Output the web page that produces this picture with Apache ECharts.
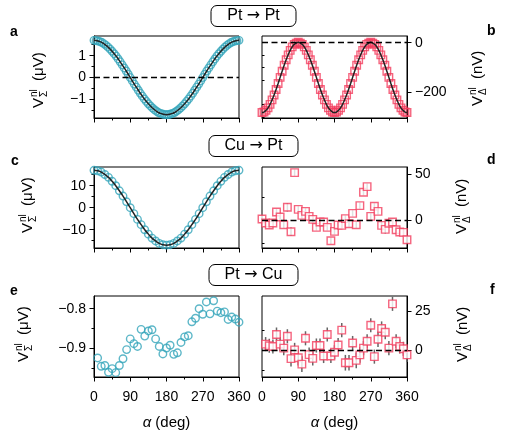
<!DOCTYPE html>
<html>
<head>
<meta charset="utf-8">
<script src="https://cdn.jsdelivr.net/npm/echarts@6/dist/echarts.min.js"></script>
<style>
html, body { margin: 0; padding: 0; background: #fff; }
#myChart { width: 507px; height: 438px; }
</style>
</head>
<body>
<div id="myChart"></div>
<script>
// angles (deg)
var alpha5 = [0,5,10,15,20,25,30,35,40,45,50,55,60,65,70,75,80,85,90,95,100,105,110,115,120,125,130,135,140,145,150,155,160,165,170,175,180,185,190,195,200,205,210,215,220,225,230,235,240,245,250,255,260,265,270,275,280,285,290,295,300,305,310,315,320,325,330,335,340,345,350,355,360];
var alpha9 = [0,9,18,27,36,45,54,63,72,81,90,99,108,117,126,135,144,153,162,171,180,189,198,207,216,225,234,243,252,261,270,279,288,297,306,315,324,333,342,351,360];
var alpha9b = [9,18,27,36,45,54,63,72,81,90,99,108,117,126,135,144,153,162,171,180,189,198,207,216,225,234,243,252,261,270,279,288,297,306,315,324,333,342,351,360];

// a: Pt -> Pt, V_sigma (uV)
var sigPtPt = [1.70,1.69,1.67,1.64,1.60,1.54,1.47,1.39,1.30,1.20,1.09,0.98,0.85,0.72,0.58,0.44,0.30,0.15,0.00,
  -0.15,-0.30,-0.44,-0.58,-0.72,-0.85,-0.98,-1.09,-1.20,-1.30,-1.39,-1.47,-1.54,-1.60,-1.64,-1.67,-1.69,-1.70,
  -1.69,-1.67,-1.64,-1.60,-1.54,-1.47,-1.39,-1.30,-1.20,-1.09,-0.98,-0.85,-0.72,-0.58,-0.44,-0.30,-0.15,0.00,
  0.15,0.30,0.44,0.58,0.72,0.85,0.98,1.09,1.20,1.30,1.39,1.47,1.54,1.60,1.64,1.67,1.69,1.70];
// b: Pt -> Pt, V_delta (nV)
var delPtPt = [-282,-280,-273,-263,-249,-231,-211,-189,-165,-140,-115,-91,-69,-49,-31,-17,-7,-2,2,
  -2,-7,-17,-31,-49,-69,-91,-115,-140,-165,-189,-211,-231,-249,-263,-273,-280,-282,
  -280,-273,-263,-249,-231,-211,-189,-165,-140,-115,-91,-69,-49,-31,-17,-7,-2,2,
  -2,-7,-17,-31,-49,-69,-91,-115,-140,-165,-189,-211,-231,-249,-263,-273,-280,-282];
// c: Cu -> Pt, V_sigma (uV)
var sigCuPt = [17.0,16.8,16.2,15.1,13.8,12.0,10.0,7.7,5.3,2.7,0,-2.7,-5.3,-7.7,-10.0,-12.0,-13.8,-15.1,-16.2,-16.8,-17.0,
  -16.8,-16.2,-15.1,-13.8,-12.0,-10.0,-7.7,-5.3,-2.7,0,2.7,5.3,7.7,10.0,12.0,13.8,15.1,16.2,16.8,17.0];
// d: Cu -> Pt, V_delta (nV)
var delCuPt = [1.1,-3.3,-5.5,-3.3,8.8,3.3,-5.1,13.9,-12.8,51.8,11.7,5.1,9.5,4.0,0.7,-8.0,-2.2,-2.2,-8.0,-22.6,-12.4,
  -5.5,-5.8,1.5,-4.0,7.3,-5.1,15.7,30.3,36.5,4.0,15.0,9.5,-5.8,-10.2,-3.6,-2.2,-10.6,-13.1,-13.5,-21.5];
var errCuPt = [3.5,3.5,3.5,3.5,3.5,3.5,3.5,4.5,4.5,3.5,3.5,3.5,3.5,3.5,3.5,3.5,3.5,3.5,3.5,3.5,3.5,3.5,3.5,3.5,3.5,3.5,3.5,3.5,3.5,3.5,3.5,3.5,3.5,3.5,4.5,3.5,3.5,3.5,3.5,3.5,3.5];
// e: Pt -> Cu, V_sigma (uV)
var sigPtCu = [-0.924,-0.945,-0.943,-0.960,-0.951,-0.961,-0.943,-0.926,-0.903,-0.876,-0.888,-0.895,-0.852,-0.869,-0.856,-0.853,-0.876,-0.895,-0.914,-0.899,
  -0.892,-0.915,-0.911,-0.885,-0.871,-0.868,-0.833,-0.824,-0.800,-0.814,-0.783,-0.813,-0.780,-0.806,-0.810,-0.808,-0.827,-0.821,-0.826,-0.834];
// f: Pt -> Cu, V_delta (nV)
var delPtCu = [3.9,2.8,2.4,10.0,3.9,1.3,8.9,-5.4,0.2,-4.8,-8.9,7.6,-2.8,-5.2,3.0,3.0,-3.7,10.0,-3.7,-1.3,
  3.3,12.8,-8.0,-8.0,4.6,-6.5,-3.0,1.3,5.7,15.9,-4.1,7.0,13.9,11.5,1.3,29.6,5.7,2.4,0.9,-3.0];
var errPtCu = [4.5,4.5,4.5,4.5,4.5,4.5,4.5,5,4.5,5,5,4.5,4.5,4.5,4.5,4.5,4.5,4.5,4.5,4.5,
  4.5,4.5,5,5,4.5,5,5,4.5,4.5,4.5,4.5,5,4.5,4.5,4.5,4.5,4.5,4.5,4.5,4.5];

var cyan = '#35a5ba';
var red = '#f23d5e';
var FONT = 'Liberation Sans, Arial, sans-serif';

function pairs(xs, ys) { return xs.map(function (x, i) { return [x, ys[i]]; }); }
function triples(xs, ys, es) { return xs.map(function (x, i) { return [x, ys[i], es[i]]; }); }

var panels = [
  { left: 94,  top: 36,  height: 82, min: -1.85, max: 1.9,  major: [-1, 0, 1],   minor: [-1.5, -0.5, 0.5, 1.5], right: false, bottom: false },
  { left: 262, top: 36,  height: 82, min: -304,  max: 27,   major: [-200, 0],    minor: [-300, -250, -150, -100, -50], right: true, bottom: false },
  { left: 94,  top: 167, height: 81, min: -18.3, max: 18.5, major: [-10, 0, 10], minor: [-15, -5, 5, 15], right: false, bottom: false },
  { left: 262, top: 167, height: 81, min: -30.6, max: 58,   major: [0, 50],      minor: [-25, 25], right: true, bottom: false },
  { left: 94,  top: 296, height: 81, min: -0.972, max: -0.768, major: [-0.9, -0.8], minor: [-0.95, -0.85], right: false, bottom: true },
  { left: 262, top: 296, height: 81, min: -17.1, max: 34.6, major: [0, 25],      minor: [-12.5, 12.5], right: true, bottom: true }
];

var grids = [], xAxes = [], yAxes = [], series = [];
panels.forEach(function (p, i) {
  grids.push({ left: p.left, top: p.top, width: 145, height: p.height, show: true, borderColor: '#000', borderWidth: 1, backgroundColor: 'transparent' });
  xAxes.push({
    type: 'value', gridIndex: i, min: 0, max: 360, interval: 90,
    axisLine: { show: true, onZero: false, lineStyle: { color: '#000', width: 1 } },
    axisTick: { show: true, length: 4.5, lineStyle: { color: '#000', width: 1 } },
    minorTick: { show: true, splitNumber: 2, length: 2.5, lineStyle: { color: '#000', width: 1 } },
    splitLine: { show: false }, minorSplitLine: { show: false },
    axisLabel: { show: p.bottom, fontSize: 14, color: '#000', fontFamily: FONT, margin: 13 },
    name: p.bottom ? '{i|α} (deg)' : '', nameLocation: 'middle', nameGap: 38,
    nameTextStyle: { fontSize: 15, color: '#000', fontFamily: FONT, rich: { i: { fontStyle: 'italic', fontSize: 15, fontFamily: FONT, color: '#000' } } }
  });
});
panels.forEach(function (p, i) {
  yAxes.push({
    type: 'value', gridIndex: i, position: p.right ? 'right' : 'left', min: p.min, max: p.max,
    axisLine: { show: true, onZero: false, lineStyle: { color: '#000', width: 1 } },
    axisTick: { show: true, length: 4.5, customValues: p.major, lineStyle: { color: '#000', width: 1 } },
    axisLabel: { show: true, customValues: p.major, fontSize: 14, color: '#000', fontFamily: FONT, margin: 8,
      formatter: function (v) { return String(v).replace('-', '\u2212'); } },
    splitLine: { show: false }
  });
});
panels.forEach(function (p, i) {
  yAxes.push({
    type: 'value', gridIndex: i, position: p.right ? 'right' : 'left', min: p.min, max: p.max,
    axisLine: { show: false },
    axisTick: { show: true, length: 2.5, customValues: p.minor, lineStyle: { color: '#000', width: 1 } },
    axisLabel: { show: false }, splitLine: { show: false }
  });
});

function zeroLine() {
  return { silent: true, symbol: 'none', label: { show: false },
    lineStyle: { type: [6, 3.5], color: '#000', width: 1.3 }, data: [{ yAxis: 0 }] };
}
function dots(i, data, sym, color, withZero, fill) {
  var s = { type: 'scatter', xAxisIndex: i, yAxisIndex: i, data: data, symbol: sym, symbolSize: 7.5, z: 3,
    itemStyle: { color: fill || 'rgba(255,255,255,0)', borderColor: color, borderWidth: 1.4 } };
  if (withZero) s.markLine = zeroLine();
  return s;
}
function fit(i, data) {
  return { type: 'line', xAxisIndex: i, yAxisIndex: i, data: data, smooth: true, showSymbol: false, z: 4,
    lineStyle: { color: '#222', width: 1.5 } };
}
function errBars(i, data) {
  return { type: 'custom', xAxisIndex: i, yAxisIndex: i, data: data, z: 2,
    renderItem: function (params, api) {
      var x = api.value(0), y = api.value(1), e = api.value(2);
      var p1 = api.coord([x, y + e]), p2 = api.coord([x, y - e]);
      return { type: 'line', shape: { x1: p1[0], y1: p1[1], x2: p2[0], y2: p2[1] },
        style: { stroke: '#666', lineWidth: 1.5 } };
    } };
}

series.push(dots(0, pairs(alpha5, sigPtPt), 'circle', cyan, true));
series.push(fit(0, pairs(alpha5, sigPtPt)));
series.push(dots(1, pairs(alpha5, delPtPt), 'rect', red, true));
series.push(fit(1, pairs(alpha5, delPtPt)));
series.push(dots(2, pairs(alpha9, sigCuPt), 'circle', cyan, false));
series.push(fit(2, pairs(alpha9, sigCuPt)));
series.push(errBars(3, triples(alpha9, delCuPt, errCuPt)));
series.push(dots(3, pairs(alpha9, delCuPt), 'rect', red, true, '#fff'));
series.push(dots(4, pairs(alpha9b, sigPtCu), 'circle', cyan, false));
series.push(errBars(5, triples(alpha9b, delPtCu, errPtCu)));
series.push(dots(5, pairs(alpha9b, delPtCu), 'rect', red, true, '#fff'));

function yName(x, y, sub, unit) {
  return { type: 'group', x: x, y: y, rotation: Math.PI / 2, children: [
    { type: 'text', x: 0, y: -6, style: { text: 'V', fontSize: 15, fontFamily: FONT, fill: '#000', align: 'left', verticalAlign: 'middle' } },
    { type: 'text', x: 11, y: -11, style: { text: 'nl', fontSize: 10, fontFamily: FONT, fill: '#000', align: 'left', verticalAlign: 'middle' } },
    { type: 'text', x: 11, y: -1, style: { text: sub, fontSize: 10, fontFamily: FONT, fill: '#000', align: 'left', verticalAlign: 'middle' } },
    { type: 'text', x: 27, y: -6, style: { text: unit, fontSize: 15, fontFamily: FONT, fill: '#000', align: 'left', verticalAlign: 'middle' } }
  ] };
}
function letter(ch, x, y) {
  return { type: 'text', x: x, y: y, style: { text: ch, fontSize: 14, fontWeight: 'bold', fontFamily: FONT, fill: '#000', align: 'left', verticalAlign: 'middle' } };
}

function boxTitle(from, to, top) {
  return { text: from + ' {a|\u2192} ' + to, left: 'center', top: top, padding: [3, 16],
    borderColor: '#000', borderWidth: 1, borderRadius: 6,
    textStyle: { fontSize: 16, fontWeight: 'normal', color: '#000', fontFamily: FONT,
      rich: { a: { fontSize: 16, fontFamily: 'DejaVu Sans', color: '#000' } } } };
}

myChart = echarts.init(document.getElementById('myChart'));
var option = {
  animation: false,
  backgroundColor: '#fff',
  title: [boxTitle('Pt', 'Pt', 5), boxTitle('Cu', 'Pt', 135), boxTitle('Pt', 'Cu', 264)],
  grid: grids,
  xAxis: xAxes,
  yAxis: yAxes,
  series: series,
  graphic: [
    letter('a', 10, 32), letter('b', 487, 31),
    letter('c', 11, 161), letter('d', 487, 160),
    letter('e', 10, 291), letter('f', 490, 290),
    yName(45, 108, '\u03a3', '(\u03bcV)'),
    yName(34, 233, '\u03a3', '(\u03bcV)'),
    yName(30, 362, '\u03a3', '(\u03bcV)'),
    yName(484, 106, '\u0394', '(nV)'),
    yName(468, 234, '\u0394', '(nV)'),
    yName(469, 362, '\u0394', '(nV)')
  ]
};
myChart.setOption(option);
</script>
</body>
</html>
